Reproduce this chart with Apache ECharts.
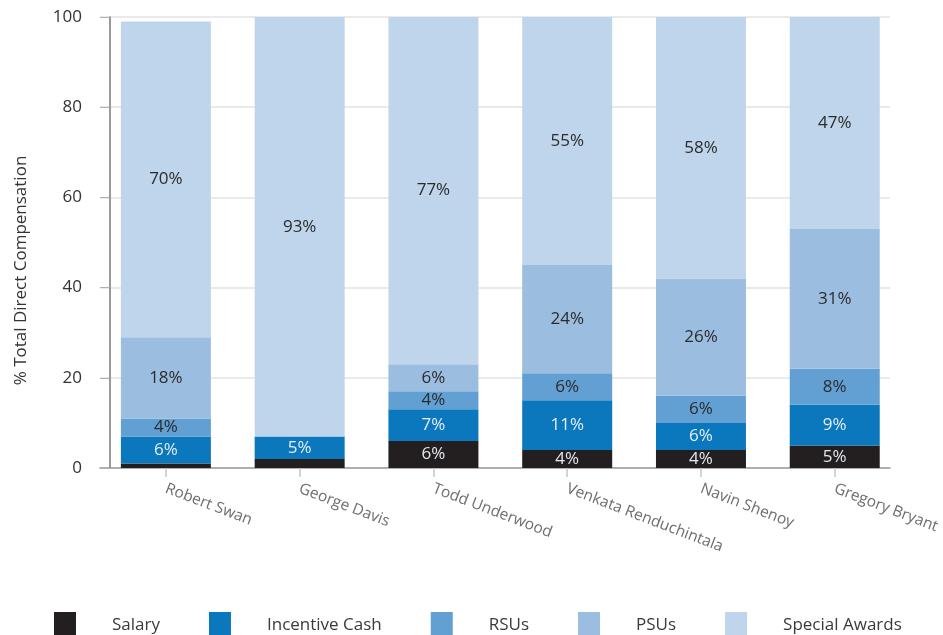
<!DOCTYPE html>
<html><head><meta charset="utf-8">
<script src="https://cdn.jsdelivr.net/npm/echarts@6/dist/echarts.min.js"></script>
<style>html,body{margin:0;padding:0;background:#fff}#c{width:943px;height:635px}</style>
</head><body><div id="c"></div>
<script>
const categories = ['Robert Swan','George Davis','Todd Underwood','Venkata Renduchintala','Navin Shenoy','Gregory Bryant'];
const salary = [1, 2, 6, 4, 4, 5];
const incentiveCash = [6, 5, 7, 11, 6, 9];
const rsus = [4, 0, 4, 6, 6, 8];
const psus = [18, 0, 6, 24, 26, 31];
const specialAwards = [70, 93, 77, 55, 58, 47];
const yTicks = [0, 20, 40, 60, 80, 100];

const FONT = 'Open Sans';
const seriesDefs = [
  {name:'Salary', data:salary, color:'#231f20', label:'#e4e8ee'},
  {name:'Incentive Cash', data:incentiveCash, color:'#0b78bd', label:'#e6eef7'},
  {name:'RSUs', data:rsus, color:'#62a0d3', label:'#2b2b2b'},
  {name:'PSUs', data:psus, color:'#9bbde0', label:'#2b2b2b'},
  {name:'Special Awards', data:specialAwards, color:'#bfd5ec', label:'#2b2b2b'}
];

const chart = echarts.init(document.getElementById('c'), null, {renderer:'canvas'});
chart.setOption({
  animation:false,
  textStyle:{fontFamily:FONT},
  grid:[
    {left:100, right:53, top:17, bottom:167},
    {left:99, right:41, top:17, bottom:167}
  ],
  xAxis:[
    {type:'category', gridIndex:0, data:categories,
     axisLine:{show:true, lineStyle:{color:'#9a9a9a', width:1.5}},
     axisTick:{show:false}, axisLabel:{show:false}},
    {type:'category', gridIndex:1, data:categories,
     axisLine:{show:false},
     axisTick:{show:true, alignWithLabel:true, length:9, lineStyle:{color:'#c8c8c8', width:1.5}},
     axisLabel:{rotate:-21, margin:20, color:'#6e6e6e', fontSize:15.5, fontFamily:FONT, interval:0}}
  ],
  yAxis:[
    {type:'value', gridIndex:0, min:yTicks[0], max:yTicks[yTicks.length-1], interval:20, offset:-10,
     name:'% Total Direct Compensation', nameLocation:'middle', nameGap:80, nameRotate:90,
     nameTextStyle:{color:'#333', fontSize:17, fontFamily:FONT, padding:[0,56,0,0]},
     axisLine:{show:true, lineStyle:{color:'#777', width:1.5}},
     axisTick:{show:true, length:10, lineStyle:{color:'#b0b0b0'}},
     axisLabel:{color:'#333', fontSize:17, margin:28, fontFamily:FONT},
     splitLine:{show:true, lineStyle:{color:'#e3e3e3', width:1.5}}},
    {type:'value', gridIndex:1, min:0, max:100, show:false, splitLine:{show:false}}
  ],
  legend:{
    top:612, left:54, padding:0, itemWidth:22, itemHeight:26, itemGap:49, icon:'rect',
    textStyle:{color:'#3a3a3a', fontSize:17, fontFamily:FONT, padding:[0,0,6,31]},
    data:seriesDefs.map(s=>s.name)
  },
  series: seriesDefs.map(s=>({
    name:s.name, type:'bar', stack:'total', xAxisIndex:1, yAxisIndex:1,
    barWidth:90, data:s.data,
    itemStyle:{color:s.color},
    label:{show:true, position:'inside', color:s.label, fontSize:17, fontFamily:FONT,
      formatter:p=> p.value>=3 ? p.value+'%' : ''}
  }))
});
</script></body></html>
